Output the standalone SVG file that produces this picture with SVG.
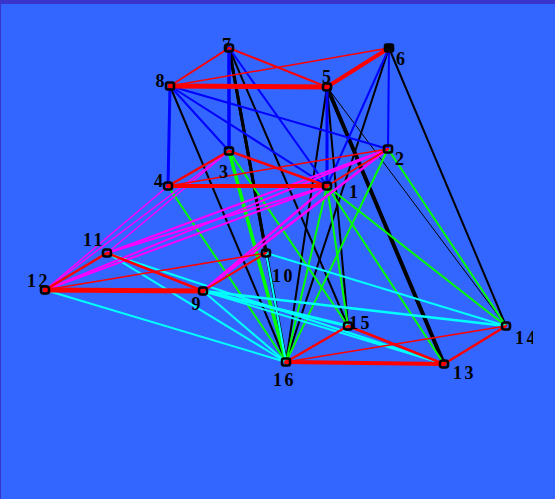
<svg xmlns="http://www.w3.org/2000/svg" width="555" height="499" viewBox="0 0 555 499">
<defs>
<style>
.e{fill:none;stroke-linecap:round}
.k{stroke:#000}
.b{stroke:#0000ff}
.g{stroke:#00ff00}
.c{stroke:#00ffff}
.m{stroke:#ff00ff}
.r{stroke:#ff0000}
.n rect{fill:none;stroke:#000;stroke-width:2.6}
.lbl{font-family:"Liberation Serif","Times New Roman",serif;font-weight:bold;font-size:18px;fill:#000;letter-spacing:2.5px}
</style>
<clipPath id="clipR"><rect x="0" y="0" width="533" height="499"/></clipPath>
</defs>
<rect x="0" y="0" width="555" height="499" fill="#3366ff"/>
<rect x="0" y="0" width="555" height="4" fill="#3a33cc"/>
<rect x="0" y="0" width="1" height="499" fill="#3a33cc"/>
<g id="connectors">
<g class="e k">
<line x1="170" y1="86" x2="286" y2="362" stroke-width="2"/>
<line x1="229" y1="48" x2="266" y2="253" stroke-width="3"/>
<line x1="229" y1="48" x2="286" y2="362" stroke-width="3"/>
<line x1="229" y1="48" x2="348" y2="326" stroke-width="2"/>
<line x1="327" y1="87" x2="286" y2="362" stroke-width="2"/>
<line x1="327" y1="87" x2="348" y2="326" stroke-width="2"/>
<line x1="327" y1="87" x2="444" y2="364" stroke-width="4"/>
<line x1="327" y1="87" x2="506" y2="326" stroke-width="1"/>
<line x1="389" y1="48" x2="286" y2="362" stroke-width="2"/>
<line x1="389" y1="48" x2="506" y2="326" stroke-width="2"/>
</g>
<g class="e b">
<line x1="170" y1="86" x2="168" y2="186" stroke-width="3"/>
<line x1="229" y1="48" x2="229" y2="151" stroke-width="3.5"/>
<line x1="327" y1="87" x2="327" y2="186" stroke-width="3"/>
<line x1="389" y1="48" x2="388" y2="149" stroke-width="2"/>
<line x1="170" y1="86" x2="229" y2="151" stroke-width="2"/>
<line x1="170" y1="86" x2="327" y2="186" stroke-width="2"/>
<line x1="170" y1="86" x2="388" y2="149" stroke-width="2"/>
<line x1="229" y1="48" x2="327" y2="186" stroke-width="2"/>
<line x1="389" y1="48" x2="327" y2="186" stroke-width="2"/>
</g>
<g class="e g">
<line x1="168" y1="186" x2="286" y2="362" stroke-width="2"/>
<line x1="229" y1="151" x2="286" y2="362" stroke-width="3.5"/>
<line x1="229" y1="151" x2="348" y2="326" stroke-width="2"/>
<line x1="327" y1="186" x2="286" y2="362" stroke-width="2"/>
<line x1="327" y1="186" x2="348" y2="326" stroke-width="2"/>
<line x1="327" y1="186" x2="444" y2="364" stroke-width="2"/>
<line x1="327" y1="186" x2="506" y2="326" stroke-width="2"/>
<line x1="388" y1="149" x2="286" y2="362" stroke-width="2"/>
<line x1="388" y1="149" x2="506" y2="326" stroke-width="2"/>
</g>
<g class="e c">
<line x1="45" y1="290" x2="286" y2="362" stroke-width="2"/>
<line x1="107" y1="253" x2="286" y2="362" stroke-width="2"/>
<line x1="107" y1="253" x2="444" y2="364" stroke-width="2"/>
<line x1="203" y1="291" x2="286" y2="362" stroke-width="2"/>
<line x1="203" y1="291" x2="348" y2="326" stroke-width="3"/>
<line x1="203" y1="291" x2="444" y2="364" stroke-width="2"/>
<line x1="203" y1="291" x2="506" y2="326" stroke-width="2.5"/>
<line x1="266" y1="253" x2="286" y2="362" stroke-width="2"/>
<line x1="266" y1="253" x2="506" y2="326" stroke-width="2"/>
</g>
<g class="e m">
<line x1="45" y1="290" x2="168" y2="186" stroke-width="1.5"/>
<line x1="45" y1="290" x2="229" y2="151" stroke-width="1.5"/>
<line x1="45" y1="290" x2="327" y2="186" stroke-width="2"/>
<line x1="45" y1="290" x2="388" y2="149" stroke-width="2"/>
<line x1="107" y1="253" x2="229" y2="151" stroke-width="1.5"/>
<line x1="107" y1="253" x2="327" y2="186" stroke-width="2"/>
<line x1="107" y1="253" x2="388" y2="149" stroke-width="2"/>
<line x1="203" y1="291" x2="327" y2="186" stroke-width="2.5"/>
<line x1="203" y1="291" x2="388" y2="149" stroke-width="2.5"/>
</g>
<g class="e r">
<line x1="170" y1="86" x2="327" y2="87" stroke-width="5"/>
<line x1="327" y1="87" x2="389" y2="48" stroke-width="4"/>
<line x1="170" y1="86" x2="229" y2="48" stroke-width="2"/>
<line x1="229" y1="48" x2="327" y2="87" stroke-width="2"/>
<line x1="170" y1="86" x2="389" y2="48" stroke-width="1.5"/>
<line x1="168" y1="186" x2="327" y2="186" stroke-width="4"/>
<line x1="168" y1="186" x2="229" y2="151" stroke-width="2.5"/>
<line x1="229" y1="151" x2="327" y2="186" stroke-width="2.5"/>
<line x1="327" y1="186" x2="388" y2="149" stroke-width="2"/>
<line x1="168" y1="186" x2="388" y2="149" stroke-width="1.5"/>
<line x1="45" y1="290" x2="203" y2="291" stroke-width="5"/>
<line x1="45" y1="290" x2="107" y2="253" stroke-width="2.5"/>
<line x1="107" y1="253" x2="203" y2="291" stroke-width="2.5"/>
<line x1="203" y1="291" x2="266" y2="253" stroke-width="2"/>
<line x1="45" y1="290" x2="266" y2="253" stroke-width="1.5"/>
<line x1="286" y1="362" x2="444" y2="364" stroke-width="4"/>
<line x1="286" y1="362" x2="348" y2="326" stroke-width="2.5"/>
<line x1="348" y1="326" x2="444" y2="364" stroke-width="2.5"/>
<line x1="444" y1="364" x2="506" y2="326" stroke-width="2.5"/>
<line x1="286" y1="362" x2="506" y2="326" stroke-width="1.5"/>
</g>
</g>
<g id="node1" class="n"><rect x="323" y="182.5" width="8" height="7" rx="2.5"/><text class="lbl" x="349" y="198">1</text></g>
<g id="node2" class="n"><rect x="384" y="145.5" width="8" height="7" rx="2"/><text class="lbl" x="395" y="165">2</text></g>
<g id="node3" class="n"><rect x="225" y="147.5" width="8" height="7" rx="2"/><text class="lbl" x="219" y="178">3</text></g>
<g id="node4" class="n"><rect x="164" y="182.5" width="8" height="7" rx="2.5"/><text class="lbl" x="154" y="187">4</text></g>
<g id="node5" class="n"><rect x="323" y="83.5" width="8" height="7" rx="2.5"/><text class="lbl" x="322" y="83">5</text></g>
<g id="node6" class="n"><rect x="385" y="44.5" width="8" height="7" rx="1.5" style="fill:#000"/><text class="lbl" x="396" y="65">6</text></g>
<g id="node7" class="n"><rect x="225" y="44.5" width="8" height="7" rx="2.5"/><text class="lbl" x="222" y="51">7</text></g>
<g id="node8" class="n"><rect x="166" y="82.5" width="8" height="7" rx="2"/><text class="lbl" x="155.5" y="87">8</text></g>
<g id="node9" class="n"><rect x="199" y="287.5" width="8" height="7" rx="2.5"/><text class="lbl" x="191.5" y="310">9</text></g>
<g id="node10" class="n"><rect x="262" y="249.5" width="8" height="7" rx="2.5"/><text class="lbl" x="272" y="282">10</text></g>
<g id="node11" class="n"><rect x="103" y="249.5" width="8" height="7" rx="2.5"/><text class="lbl" x="83" y="246">11</text></g>
<g id="node12" class="n"><rect x="41" y="286.5" width="8" height="7" rx="2.5"/><text class="lbl" x="27" y="287">12</text></g>
<g id="node13" class="n"><rect x="440" y="360.5" width="8" height="7" rx="2.5"/><text class="lbl" x="453" y="379">13</text></g>
<g id="node14" class="n"><rect x="502" y="322.5" width="8" height="7" rx="2.5"/><text class="lbl" x="515" y="344" clip-path="url(#clipR)">14</text></g>
<g id="node15" class="n"><rect x="344" y="322.5" width="8" height="7" rx="2.5"/><text class="lbl" x="349" y="329">15</text></g>
<g id="node16" class="n"><rect x="282" y="358.5" width="8" height="7" rx="2"/><text class="lbl" x="273" y="386">16</text></g>
</svg>
